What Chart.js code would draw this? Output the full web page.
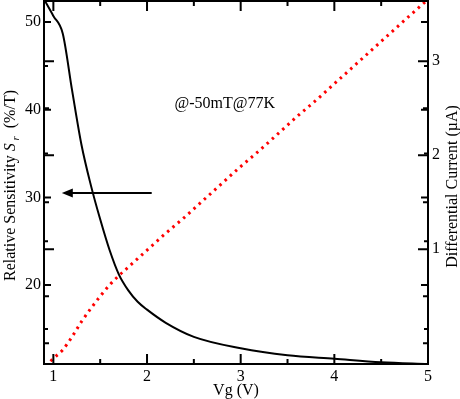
<!DOCTYPE html>
<html>
<head>
<meta charset="utf-8">
<script src="https://cdn.jsdelivr.net/npm/chart.js@4.4.1/dist/chart.umd.min.js"></script>
<style>
  body { margin: 0; background: #fff; }
</style>
</head>
<body>
<canvas id="sensChart" width="460" height="399"></canvas>
<script>
// sensitivity curve (left axis)
const vgSens = [0.9, 1.0, 1.1, 1.2, 1.3, 1.4, 1.5, 1.6, 1.7, 1.8, 1.9, 2.0, 2.2, 2.5, 3.0, 3.5, 4.0, 4.5, 5.0];
const sensitivity = [52.6, 50.7, 48.7, 42.2, 36.0, 31.4, 27.5, 24.0, 21.2, 19.4, 18.1, 17.2, 15.7, 14.1, 12.8, 12.0, 11.6, 11.2, 11.0];

// differential current (right axis)
const vgCurrent = [0.97, 1.0, 1.1, 1.2, 1.3, 1.4, 1.5, 1.6, 1.7, 1.8, 1.9, 2.0, 2.2, 2.4, 2.6, 2.8, 3.0, 3.2, 3.4, 3.6, 3.8, 4.0, 4.2, 4.4, 4.6, 4.8, 4.97];
const current = [-0.19, -0.16, -0.07, 0.07, 0.23, 0.37, 0.50, 0.62, 0.72, 0.81, 0.90, 0.99, 1.17, 1.34, 1.52, 1.70, 1.88, 2.05, 2.23, 2.41, 2.58, 2.76, 2.94, 3.12, 3.30, 3.48, 3.63];

// tick labels
const xTicks = [1, 2, 3, 4, 5];
const xMinor = [1.5, 2.5, 3.5, 4.5];
const leftTicks = [20, 30, 40, 50];
const leftMinor = [15, 25, 35, 45];
const rightTicks = [1, 2, 3];
const rightMinor = [0, 0.5, 1.5, 2.5];

const FONT = "'Liberation Serif', 'DejaVu Serif', serif";

// inward ticks, frame, titles, arrow and note
const decorations = {
  id: "decorations",
  afterDraw(chart) {
    const { ctx, chartArea: a, scales } = chart;
    const x = scales.x, yl = scales.y, yr = scales.y1;
    ctx.save();
    ctx.strokeStyle = "#000";
    ctx.fillStyle = "#000";
    ctx.lineWidth = 2;

    const vTick = (px, len) => {
      ctx.beginPath();
      ctx.moveTo(px, a.bottom); ctx.lineTo(px, a.bottom - len);
      ctx.moveTo(px, a.top); ctx.lineTo(px, a.top + len);
      ctx.stroke();
    };
    const hTick = (py, len) => {
      ctx.beginPath();
      ctx.moveTo(a.left, py); ctx.lineTo(a.left + len, py);
      ctx.moveTo(a.right, py); ctx.lineTo(a.right - len, py);
      ctx.stroke();
    };
    xTicks.forEach(v => vTick(x.getPixelForValue(v), 10));
    xMinor.forEach(v => vTick(x.getPixelForValue(v), 5));
    leftTicks.forEach(v => hTick(yl.getPixelForValue(v), 7));
    leftMinor.forEach(v => hTick(yl.getPixelForValue(v), 4));
    rightTicks.forEach(v => hTick(yr.getPixelForValue(v), 10));
    rightMinor.forEach(v => hTick(yr.getPixelForValue(v), 5));

    ctx.strokeRect(a.left, a.top, a.right - a.left, a.bottom - a.top);

    // arrow pointing to the left axis
    const ay = yl.getPixelForValue(30.5);
    const ax0 = x.getPixelForValue(2.05), ax1 = x.getPixelForValue(1.09);
    ctx.beginPath();
    ctx.moveTo(ax0, ay); ctx.lineTo(ax1 + 8, ay);
    ctx.stroke();
    ctx.beginPath();
    ctx.moveTo(ax1, ay);
    ctx.lineTo(ax1 + 11, ay - 4.5);
    ctx.lineTo(ax1 + 11, ay + 4.5);
    ctx.closePath();
    ctx.fill();

    // note
    ctx.font = "16px " + FONT;
    ctx.textAlign = "center";
    ctx.textBaseline = "alphabetic";
    ctx.fillText("@-50mT@77K", x.getPixelForValue(2.83), yl.getPixelForValue(40.2));

    // x title
    ctx.fillText("Vg (V)", (a.left + a.right) / 2, 395);

    // left title with italic S and subscript r
    ctx.save();
    ctx.translate(15, (a.top + a.bottom) / 2 + 3);
    ctx.rotate(-Math.PI / 2);
    ctx.textAlign = "left";
    const parts = [
      { t: "Relative Sensitivity ", f: "16px " + FONT, dy: 0 },
      { t: "S", f: "italic 16px " + FONT, dy: 0 },
      { t: " r", f: "italic 11px " + FONT, dy: 4 },
      { t: "  (%/T)", f: "16px " + FONT, dy: 0 }
    ];
    let total = 0;
    parts.forEach(p => { ctx.font = p.f; p.w = ctx.measureText(p.t).width; total += p.w; });
    let cx = -total / 2;
    parts.forEach(p => { ctx.font = p.f; ctx.fillText(p.t, cx, p.dy); cx += p.w; });
    ctx.restore();

    // right title
    ctx.save();
    ctx.translate(457, (a.top + a.bottom) / 2 + 4);
    ctx.rotate(-Math.PI / 2);
    ctx.font = "16px " + FONT;
    ctx.textAlign = "center";
    ctx.fillText("Differential Current (\u00b5A)", 0, 0);
    ctx.restore();

    ctx.restore();
  }
};

const setTicks = list => scale => { scale.ticks = list.map(v => ({ value: v })); };

const sensChart = new Chart(document.getElementById("sensChart"), {
  type: "line",
  data: {
    datasets: [
      {
        label: "Sensitivity",
        data: vgSens.map((v, i) => ({ x: v, y: sensitivity[i] })),
        yAxisID: "y",
        borderColor: "#000",
        borderWidth: 2,
        pointRadius: 0,
        cubicInterpolationMode: "monotone",
        fill: false,
      },
      {
        label: "Current",
        data: vgCurrent.map((v, i) => ({ x: v, y: current[i] })),
        yAxisID: "y1",
        borderColor: "#ff0000",
        borderWidth: 3,
        borderDash: [2.5, 4.5],
        pointRadius: 0,
        cubicInterpolationMode: "monotone",
        fill: false,
      },
    ],
  },
  options: {
    responsive: false,
    animation: false,
    events: [],
    layout: { padding: { top: 1, left: 0, right: 0, bottom: 0 } },
    plugins: { legend: { display: false }, tooltip: { enabled: false } },
    scales: {
      x: {
        type: "linear",
        min: 0.9,
        max: 5,
        afterBuildTicks: setTicks(xTicks),
        afterFit: s => { s.height = 35; s.paddingLeft = 0; s.paddingRight = 0; },
        grid: { display: false, drawTicks: false },
        border: { display: false },
        ticks: { color: "#000", padding: 3, font: { family: FONT, size: 16 } },
      },
      y: {
        type: "linear",
        position: "left",
        min: 11,
        max: 52.4,
        afterBuildTicks: setTicks(leftTicks),
        afterFit: s => { s.width = 44; s.paddingTop = 0; s.paddingBottom = 0; },
        grid: { display: false, drawTicks: false },
        border: { display: false },
        ticks: { color: "#000", padding: 3, font: { family: FONT, size: 16 } },
      },
      y1: {
        type: "linear",
        position: "right",
        min: -0.22,
        max: 3.64,
        afterBuildTicks: setTicks(rightTicks),
        afterFit: s => { s.width = 32; s.paddingTop = 0; s.paddingBottom = 0; },
        grid: { display: false, drawTicks: false },
        border: { display: false },
        ticks: { color: "#000", padding: 4, font: { family: FONT, size: 16 } },
      },
    },
  },
  plugins: [decorations],
});
</script>
</body>
</html>
